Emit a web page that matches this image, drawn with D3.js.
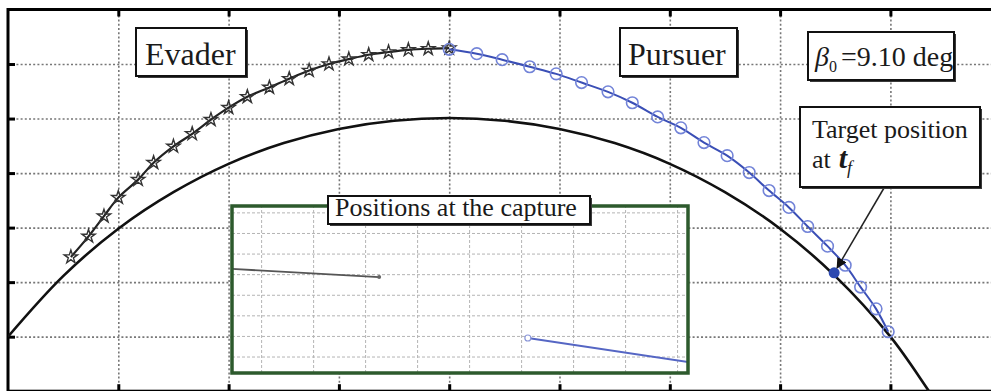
<!DOCTYPE html>
<html lang="en">
<head>
<meta charset="UTF-8">
<title>Positions at the capture</title>
<style>
body { margin: 0; background: #fff; }
svg { display: block; overflow: hidden; }
svg text { font-family: "Times New Roman", "Liberation Serif", Times, "DejaVu Serif", "Noto Serif", serif; fill: #1a1a1a; }
</style>
</head>
<body>
<svg></svg>
<script src="https://d3js.org/d3.v7.min.js"></script>
<script>

// target trajectory (lower black curve), grid units
var targetX = [0, 0.5, 1, 1.5, 2, 2.5, 3, 3.5, 4, 4.5, 5, 5.5, 6, 6.5, 7, 7.5, 8, 8.35, 8.6];
var targetY = [1.0, 2.11, 2.98, 3.65, 4.17, 4.55, 4.81, 4.96, 5.01, 4.96, 4.81, 4.55, 4.17, 3.65, 2.98, 2.11, 1.0, 0.0, -0.75];

// evader trajectory (stars)
var evaderX = [0.57, 0.73, 0.87, 1.0, 1.18, 1.32, 1.5, 1.67, 1.84, 2.0, 2.17, 2.37, 2.55, 2.73, 2.91, 3.09, 3.27, 3.45, 3.63, 3.81, 4.0];
var evaderY = [2.46, 2.84, 3.21, 3.55, 3.88, 4.19, 4.49, 4.72, 4.98, 5.2, 5.4, 5.57, 5.73, 5.88, 6.0, 6.09, 6.17, 6.22, 6.26, 6.28, 6.29];

// pursuer trajectory (blue circles)
var pursuerX = [4.0, 4.25, 4.48, 4.73, 4.97, 5.2, 5.44, 5.66, 5.89, 6.1, 6.31, 6.52, 6.72, 6.9, 7.08, 7.25, 7.43, 7.59, 7.73, 7.87, 7.98];
var pursuerY = [6.27, 6.19, 6.08, 5.95, 5.82, 5.66, 5.49, 5.29, 5.03, 4.83, 4.56, 4.32, 4.01, 3.68, 3.37, 3.02, 2.66, 2.31, 1.91, 1.51, 1.09];

// target position at t_f
var captureX = [7.49];
var captureY = [2.17];

// inset: positions at the capture
var insetEvaderX = [-0.9, 2.27];
var insetEvaderY = [5.3, 4.86];
var insetPursuerX = [5.13, 8.7];
var insetPursuerY = [1.9, 0.55];

var labelTexts = ["Evader", "Pursuer", "Positions at the capture", "Target position", "at"];

function zip(xs, ys) {
    return xs.map(function(v, i) { return { x: v, y: ys[i] }; });
}

function drawChart() {
    var svgWidth = 991, svgHeight = 391;
    var svg = d3.select("svg").attr("width", svgWidth).attr("height", svgHeight);

    var x = d3.scaleLinear().domain([0, 9]).range([8, 1000.7]);
    var y = d3.scaleLinear().domain([0, 7]).range([391.2, 9.5]);
    var plotH = y(0) - y(7), plotW = x(9) - x(0);

    var defs = svg.append("defs");
    defs.append("clipPath").attr("id", "plotclip")
        .append("rect").attr("x", x(0)).attr("y", y(7)).attr("width", plotW).attr("height", plotH);
    defs.append("marker").attr("id", "arrow")
        .attr("viewBox", "0 0 10 10").attr("refX", 9).attr("refY", 5)
        .attr("markerWidth", 7).attr("markerHeight", 7).attr("orient", "auto")
        .append("path").attr("d", "M0,0 L10,5 L0,10 z").attr("fill", "#111");

    // grid
    var gx = svg.append("g").attr("transform", "translate(0," + y(0) + ")")
        .call(d3.axisBottom(x).tickValues(d3.range(1, 9)).tickSize(-plotH).tickFormat(""));
    var gy = svg.append("g").attr("transform", "translate(" + x(0) + ",0)")
        .call(d3.axisLeft(y).tickValues(d3.range(1, 7)).tickSize(-plotW).tickFormat(""));
    [gx, gy].forEach(function(gg) {
        gg.select(".domain").remove();
        gg.selectAll("line").attr("stroke", "#777").attr("stroke-width", 1.6).attr("stroke-dasharray", "2,2.2");
    });

    // inward major ticks
    var tl = svg.append("g").attr("transform", "translate(" + x(0) + ",0)")
        .call(d3.axisLeft(y).tickValues(d3.range(1, 7)).tickSize(-7).tickFormat(""));
    var tt = svg.append("g").attr("transform", "translate(0," + y(7) + ")")
        .call(d3.axisTop(x).tickValues(d3.range(1, 9)).tickSize(-7).tickFormat(""));
    var tb = svg.append("g").attr("transform", "translate(0," + y(0) + ")")
        .call(d3.axisBottom(x).tickValues(d3.range(1, 9)).tickSize(-7).tickFormat(""));
    [tl, tt, tb].forEach(function(gg) {
        gg.select(".domain").remove();
        gg.selectAll("line").attr("stroke", "#000").attr("stroke-width", 3);
    });

    // frame
    svg.append("rect").attr("x", x(0)).attr("y", y(7)).attr("width", plotW).attr("height", plotH)
        .attr("fill", "none").attr("stroke", "#000").attr("stroke-width", 3);

    var line = d3.line().x(function(d) { return x(d.x); }).y(function(d) { return y(d.y); })
        .curve(d3.curveCatmullRom);
    var plot = svg.append("g").attr("clip-path", "url(#plotclip)");

    // target curve
    plot.append("path").datum(zip(targetX, targetY))
        .attr("fill", "none").attr("stroke", "#111").attr("stroke-width", 2.6).attr("d", line);

    // evader
    var ev = zip(evaderX, evaderY);
    plot.append("path").datum(ev)
        .attr("fill", "none").attr("stroke", "#222").attr("stroke-width", 2.2).attr("d", line);
    plot.selectAll(".star").data(ev).enter().append("path")
        .attr("transform", function(d) { return "translate(" + x(d.x) + "," + y(d.y) + ")"; })
        .attr("d", d3.symbol(d3.symbolStar, 55))
        .attr("fill", "none").attr("stroke", "#333").attr("stroke-width", 1.4);

    // pursuer
    var pu = zip(pursuerX, pursuerY);
    plot.append("path").datum(pu)
        .attr("fill", "none").attr("stroke", "#3b4fb6").attr("stroke-width", 2).attr("d", line);
    plot.selectAll(".circ").data(pu).enter().append("circle")
        .attr("cx", function(d) { return x(d.x); }).attr("cy", function(d) { return y(d.y); })
        .attr("r", 5.8).attr("fill", "none").attr("stroke", "#7384d8").attr("stroke-width", 1.6);

    // capture point
    plot.selectAll(".cap").data(zip(captureX, captureY)).enter().append("circle")
        .attr("cx", function(d) { return x(d.x); }).attr("cy", function(d) { return y(d.y); })
        .attr("r", 5.5).attr("fill", "#2c49b0");

    // inset
    var ix = d3.scaleLinear().domain([-0.56, 8.21]).range([232, 688]);
    var iy = d3.scaleLinear().domain([0.2, 8.31]).range([373, 206]);
    defs.append("clipPath").attr("id", "insetclip")
        .append("rect").attr("x", 232).attr("y", 206).attr("width", 456).attr("height", 167);
    var inset = svg.append("g");
    inset.append("rect").attr("x", 232).attr("y", 206).attr("width", 456).attr("height", 167).attr("fill", "#fff");
    var igx = inset.append("g").attr("transform", "translate(0,373)")
        .call(d3.axisBottom(ix).tickValues(d3.range(0, 9)).tickSize(-167).tickFormat(""));
    var igy = inset.append("g").attr("transform", "translate(232,0)")
        .call(d3.axisLeft(iy).tickValues(d3.range(1, 9)).tickSize(-456).tickFormat(""));
    [igx, igy].forEach(function(gg) {
        gg.select(".domain").remove();
        gg.selectAll("line").attr("stroke", "#b4b4b4").attr("stroke-width", 1).attr("stroke-dasharray", "3,2");
    });
    var iline = d3.line().x(function(d) { return ix(d.x); }).y(function(d) { return iy(d.y); });
    var ic = inset.append("g").attr("clip-path", "url(#insetclip)");
    var ie = zip(insetEvaderX, insetEvaderY);
    ic.append("path").datum(ie).attr("fill", "none").attr("stroke", "#555").attr("stroke-width", 1.8).attr("d", iline);
    ic.append("circle").attr("cx", ix(ie[1].x)).attr("cy", iy(ie[1].y)).attr("r", 2).attr("fill", "#666");
    var ip = zip(insetPursuerX, insetPursuerY);
    ic.append("path").datum(ip).attr("fill", "none").attr("stroke", "#5566c4").attr("stroke-width", 1.8).attr("d", iline);
    ic.append("circle").attr("cx", ix(ip[0].x)).attr("cy", iy(ip[0].y)).attr("r", 3)
        .attr("fill", "#fff").attr("stroke", "#8a96d8").attr("stroke-width", 1.2);
    inset.append("rect").attr("x", 232).attr("y", 206).attr("width", 456).attr("height", 167)
        .attr("fill", "none").attr("stroke", "#2d5a2d").attr("stroke-width", 3.5);

    // label boxes
    function labelBox(bx, by, bw, bh) {
        svg.append("rect").attr("x", bx + 2).attr("y", by + 2).attr("width", bw).attr("height", bh).attr("fill", "#3a3a3a");
        svg.append("rect").attr("x", bx).attr("y", by).attr("width", bw).attr("height", bh)
            .attr("fill", "#fff").attr("stroke", "#111").attr("stroke-width", 2);
    }
    function label(tx, ty, size) {
        return svg.append("text").attr("x", tx).attr("y", ty).attr("font-size", size);
    }

    labelBox(136, 28, 110, 48);
    label(145, 65, 32).text(labelTexts[0]);

    labelBox(620, 28, 117, 48);
    label(628, 65, 32).text(labelTexts[1]);

    labelBox(808, 32, 146, 48);
    var bt = label(815, 66, 28);
    bt.append("tspan").attr("font-style", "italic").text("\u03B2");
    bt.append("tspan").attr("font-size", 16).attr("dy", 6).attr("dx", 0).text("0");
    bt.append("tspan").attr("dy", -6).attr("dx", 4).text("=9.10 deg");

    labelBox(328, 196, 262, 28);
    label(335, 216, 26).text(labelTexts[2]);

    // arrow to capture point
    svg.append("line").attr("x1", 884).attr("y1", 188).attr("x2", x(captureX[0]) + 3).attr("y2", y(captureY[0]) - 5)
        .attr("stroke", "#222").attr("stroke-width", 1.5).attr("marker-end", "url(#arrow)");

    labelBox(800, 107, 180, 80);
    label(812, 138, 26).text(labelTexts[3]);
    var at = label(812, 168, 26);
    at.append("tspan").text(labelTexts[4]);
    at.append("tspan").attr("dx", 8).attr("font-style", "italic").attr("font-weight", "bold").attr("font-size", 30).text("t");
    at.append("tspan").attr("dy", 6).attr("font-style", "italic").attr("font-size", 18).text("f");
}

drawChart();
</script>
</body>
</html>
